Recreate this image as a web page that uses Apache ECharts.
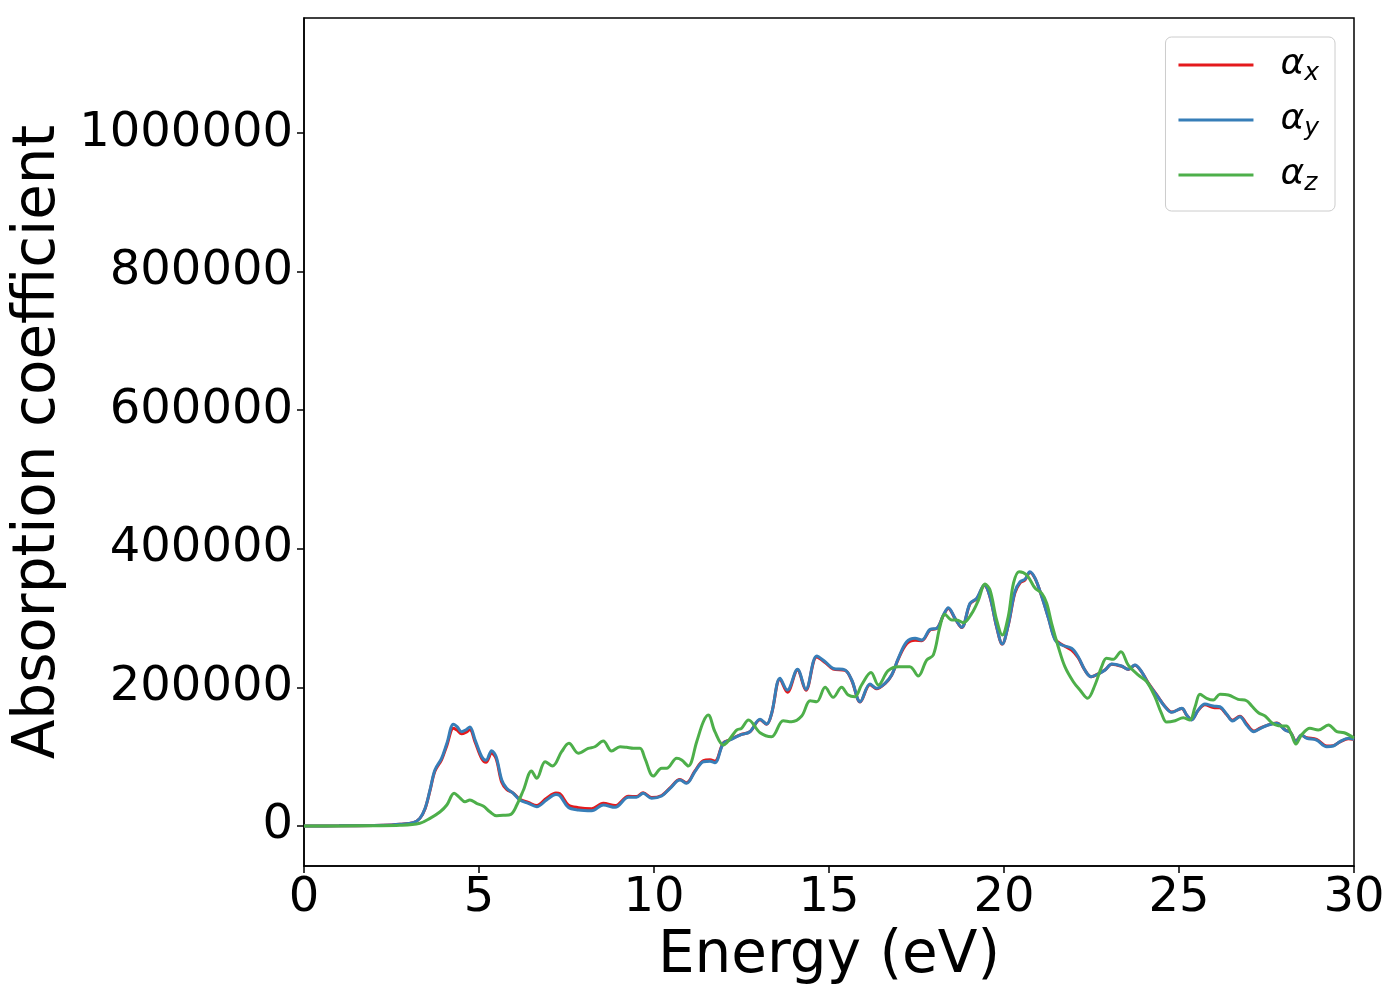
<!DOCTYPE html>
<html>
<head>
<meta charset="utf-8">
<script src="https://cdn.jsdelivr.net/npm/echarts@6/dist/echarts.min.js"></script>
<style>
html,body{margin:0;padding:0;background:#fff;}
#chart{width:1400px;height:1000px;}
</style>
</head>
<body>
<div id="chart"></div>
<script>
// ---- Data ----
const energyXY = [0,1,2,2.5,2.74,3.12,3.31,3.46,3.6,3.74,3.93,4.08,4.27,4.38,4.5,4.62,4.74,4.89,5.08,5.2,5.36,5.49,5.65,5.79,5.98,6.17,6.41,6.65,6.93,7.2,7.31,7.55,7.84,8.22,8.55,8.89,9.27,9.5,9.69,9.93,10.22,10.46,10.74,10.93,11.17,11.41,11.6,11.74,11.98,12.17,12.46,12.74,13.03,13.22,13.36,13.6,13.81,14.1,14.34,14.65,14.89,15.12,15.46,15.65,15.89,16.17,16.36,16.6,16.79,16.98,17.22,17.46,17.65,17.89,18.08,18.27,18.41,18.6,18.79,19.03,19.22,19.44,19.6,19.79,19.95,20.12,20.31,20.46,20.6,20.74,20.89,21.08,21.27,21.46,21.65,21.93,22.12,22.31,22.49,22.69,22.89,23.08,23.36,23.55,23.74,23.93,24.12,24.36,24.6,24.79,25.08,25.22,25.36,25.55,25.74,25.98,26.17,26.36,26.53,26.74,26.93,27.14,27.33,27.55,27.79,28.03,28.19,28.34,28.5,28.65,28.93,29.22,29.41,29.6,29.84,30];
const alphaY = [0,300,900,1600,2400,4800,11000,25500,52000,80800,97700,119000,147000,143000,136000,138500,143000,124000,100000,95000,108700,100000,66400,54400,47200,37500,32700,27800,37500,45500,43800,27000,23100,22100,30300,27000,41400,41400,47200,40000,43300,54400,66400,61600,78400,92800,93500,91300,119300,124100,131300,136100,154000,147200,162600,213100,196200,226100,197300,245300,237100,227600,225100,210700,179400,204900,198700,205900,217900,242000,265900,270900,268400,283800,285300,304500,315000,299700,286700,321400,328600,347800,330900,287600,262600,290000,338000,352500,356000,367000,357400,330900,299700,268400,261200,256400,244300,225100,215400,219300,225100,233800,230900,226100,232300,222700,205900,189000,172100,164000,169800,160200,153000,167400,176000,173200,172100,161600,151500,157700,145700,136100,141000,145700,148200,138500,134600,121700,131300,126600,124100,114400,115400,121700,126600,125000];
const alphaX = [0,300,900,1600,2400,4800,11000,25000,51000,79000,95500,116000,141000,138000,133000,135000,139000,121000,97000,92000,105000,97000,63000,53000,47500,38500,34000,29500,40000,47500,46500,30500,26500,25000,33000,29500,43000,42500,48000,41000,44000,55000,67000,62500,79500,94500,95500,93500,120000,124500,131500,136000,153500,147000,162000,212000,193000,225000,196000,244000,236000,226500,224500,210000,179000,204000,198000,205500,217500,241000,263000,268000,267500,283000,285000,304000,314000,299500,286500,320500,328000,347000,330500,287000,262500,289500,336000,351000,355000,366000,357000,331000,300500,269500,262000,254000,243000,225000,215500,219500,225500,233500,230500,226000,232000,222500,206500,189500,172500,164500,169500,160000,153500,167000,175000,171000,170500,161000,152500,158500,147500,137000,141500,146000,148500,139000,135000,122500,131000,127500,125000,115500,116000,121500,126000,125000];
const energyZ = [0,1,2,2.74,3.31,3.6,3.89,4.08,4.29,4.44,4.6,4.74,4.93,5.12,5.31,5.5,5.69,5.91,6.08,6.27,6.5,6.65,6.89,7.1,7.36,7.57,7.84,8.12,8.31,8.55,8.79,9.03,9.22,9.41,9.6,9.74,9.98,10.22,10.36,10.65,10.79,10.98,11.22,11.41,11.55,11.74,11.98,12.36,12.5,12.7,13.03,13.36,13.69,13.93,14.22,14.46,14.65,14.89,15.12,15.36,15.55,15.74,15.93,16.2,16.41,16.69,16.98,17.31,17.55,17.79,17.98,18.17,18.31,18.51,18.65,18.84,19.08,19.27,19.46,19.6,19.79,19.95,20.12,20.27,20.43,20.65,20.89,21.08,21.22,21.36,21.55,21.74,21.98,22.17,22.39,22.6,22.79,22.93,23.12,23.34,23.55,23.84,24.08,24.31,24.5,24.65,24.89,25.12,25.31,25.46,25.6,25.79,25.98,26.17,26.41,26.69,26.93,27.08,27.27,27.46,27.65,27.84,28.07,28.22,28.34,28.5,28.74,28.98,29.27,29.51,29.72,30];
const alphaZ = [0,100,400,1000,3900,11000,20600,30300,47200,41400,35100,37500,32700,28900,20600,14900,15400,16900,30300,52000,79400,68800,92800,86600,107200,119300,104900,112000,114400,122600,108200,114400,113500,112100,112100,97700,72100,83200,83200,97700,95200,86600,121700,150500,160200,136100,116900,138500,141000,153000,134600,128900,151900,150500,158700,180800,179400,200100,185700,200100,189000,186600,203500,221500,203500,224100,229900,229900,216500,239500,246800,287600,305500,297300,297300,293400,306900,326100,349200,340500,297300,275600,302000,350200,367000,362200,343000,335800,321400,292500,258700,229900,208200,196200,184300,203500,229900,242000,240500,251500,232300,217900,208200,186600,162600,150000,152000,156300,153000,172100,190000,184300,181800,190000,189000,182800,180800,173200,163500,158700,149100,144700,144300,131300,118300,131300,141000,138500,145700,136100,134600,127000];
const yTicks = [0,200000,400000,600000,800000,1000000];

function pairs(xs, ys){ return xs.map((x,i)=>[x, ys[i]]); }

const FONT = 'DejaVu Sans';
const chart = echarts.init(document.getElementById('chart'), null, {renderer:'canvas'});

const baseLine = {
  type:'line', showSymbol:false, symbol:'none', smooth:0.35, animation:false,
  emphasis:{disabled:true}
};

chart.setOption({
  animation:false,
  backgroundColor:'#ffffff',
  grid:{left:304, right:46, top:18, bottom:134, show:true, borderColor:'#000', borderWidth:1.5,
        containLabel:false, outerBoundsMode:'none'},
  xAxis:{
    type:'value', min:0, max:30, interval:5,
    axisLine:{show:true, onZero:false, lineStyle:{color:'#000', width:1.5}},
    axisTick:{show:true, length:7, lineStyle:{color:'#000', width:1.5}},
    axisLabel:{color:'#000', fontSize:48, fontFamily:FONT, margin:9},
    splitLine:{show:false},
    name:'Energy (eV)', nameLocation:'middle', nameGap:55,
    nameTextStyle:{color:'#000', fontSize:58, fontFamily:FONT}
  },
  yAxis:{
    type:'value', min:-57700, max:1166000,
    axisLine:{show:true, onZero:false, lineStyle:{color:'#000', width:1.5}},
    axisTick:{show:true, length:7, customValues:yTicks, lineStyle:{color:'#000', width:1.5}},
    axisLabel:{color:'#000', fontSize:48, fontFamily:FONT, margin:11, customValues:yTicks,
      formatter:(v)=>String(Math.round(v))},
    splitLine:{show:false},
    name:'Absorption coefficient', nameLocation:'middle', nameGap:223, nameRotate:90,
    nameTextStyle:{color:'#000', fontSize:58, fontFamily:FONT}
  },
  legend:{
    show:true, orient:'vertical', right:65, top:37,
    backgroundColor:'#fff', borderColor:'#cccccc', borderWidth:1, borderRadius:6,
    padding:[10,16,15,13], itemWidth:75, itemHeight:3, itemGap:16, icon:'rect',
    data:['αx','αy','αz'],
    formatter:(name)=>'{a|α}{s|'+name.slice(1)+'}',
    textStyle:{
      padding:[0,0,0,22],
      rich:{
        a:{fontSize:36, fontStyle:'italic', fontFamily:FONT, color:'#000', lineHeight:42},
        s:{fontSize:25, fontStyle:'italic', fontFamily:FONT, color:'#000', lineHeight:42, verticalAlign:'bottom'}
      }
    }
  },
  series:[
    Object.assign({}, baseLine, {name:'αx', data:pairs(energyXY, alphaX), color:'#e41a1c', lineStyle:{width:3, color:'#e41a1c'}}),
    Object.assign({}, baseLine, {name:'αy', data:pairs(energyXY, alphaY), color:'#377eb8', lineStyle:{width:3, color:'#377eb8'}}),
    Object.assign({}, baseLine, {name:'αz', data:pairs(energyZ, alphaZ), color:'#4daf4a', lineStyle:{width:3, color:'#4daf4a'}})
  ]
});
</script>
</body>
</html>
